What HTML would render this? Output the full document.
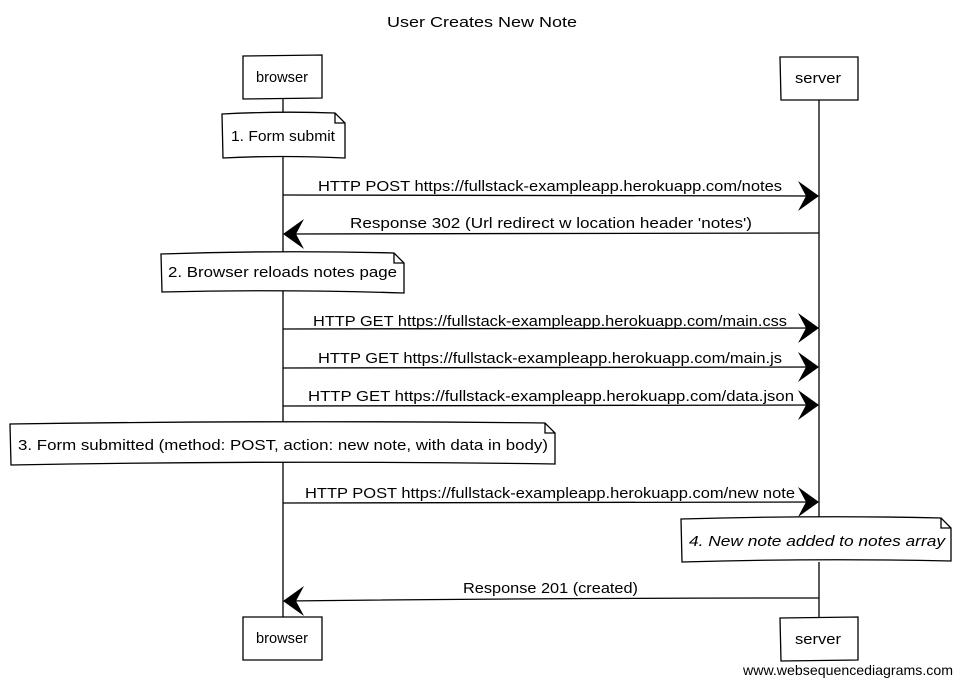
<!DOCTYPE html>
<html><head><meta charset="utf-8"><style>
html,body{margin:0;padding:0;background:#fff;}
svg{display:block;}
text{font-family:"Liberation Sans",sans-serif;fill:#000;}
.h{font-size:15px;}
</style></head><body>
<svg width="963" height="684" viewBox="0 0 963 684" xmlns="http://www.w3.org/2000/svg">
<g stroke="#000" stroke-width="1.3" fill="none">
<path d="M283 98 L283 617"/>
<path d="M819 100 L819 518 M819 562 L819 617"/>
<path d="M243 56 L322 55 L322 98 L243 99 Z" fill="#fff"/>
<path d="M780 57 L858 57 L858 100 L781 100 Z" fill="#fff"/>
<path d="M243 617 L322 617 L322 660 L243 660 Z" fill="#fff"/>
<path d="M780 618 L858 617 L858 660 L781 661 Z" fill="#fff"/>
<path d="M222 114 Q280 111 335 113 L345 123 L345 158 Q280 155 223 158 Z" fill="#fff"/>
<path d="M335 113 L335 123 L345 123"/>
<path d="M161 254 Q280 250 394 253 L404 263 L404 293 Q280 289 162 292 Z" fill="#fff"/>
<path d="M394 253 L394 263 L404 263"/>
<path d="M10 424 Q280 420 545 423 L555 433 L555 464 Q280 460 11 465 Z" fill="#fff"/>
<path d="M545 423 L545 433 L555 433"/>
<path d="M681 519 Q820 515 941 518 L951 528 L951 561 Q820 558 682 562 Z" fill="#fff"/>
<path d="M941 518 L941 528 L951 528"/>
<path d="M283 195 L815 196"/>
<path d="M819 233 L287 234"/>
<path d="M283 329 L815 328"/>
<path d="M283 368 L815 367"/>
<path d="M283 406 L815 405"/>
<path d="M283 503 L815 502"/>
<path d="M819 598 Q550 598 287 601"/>
</g>
<g fill="#000">
<path d="M819 196 L798 181 L806 196 L798 211 Z"/>
<path d="M283 234 L304 219 L296 234 L304 249 Z"/>
<path d="M819 328 L798 313 L806 328 L798 343 Z"/>
<path d="M819 367 L798 352 L806 367 L798 382 Z"/>
<path d="M819 405 L798 390 L806 405 L798 420 Z"/>
<path d="M819 502 L798 487 L806 502 L798 517 Z"/>
<path d="M283 601 L304 586 L296 601 L304 616 Z"/>
</g>
<text class="h" x="387" y="27" textLength="190" lengthAdjust="spacingAndGlyphs">User Creates New Note</text>
<text class="h" x="256" y="82" textLength="52" lengthAdjust="spacingAndGlyphs">browser</text>
<text class="h" x="795" y="83" textLength="46" lengthAdjust="spacingAndGlyphs">server</text>
<text class="h" x="256" y="643" textLength="52" lengthAdjust="spacingAndGlyphs">browser</text>
<text class="h" x="795" y="644" textLength="46" lengthAdjust="spacingAndGlyphs">server</text>
<text class="h" x="231" y="141" textLength="104" lengthAdjust="spacingAndGlyphs">1. Form submit</text>
<text class="h" x="318" y="191" textLength="464" lengthAdjust="spacingAndGlyphs">HTTP POST https://fullstack-exampleapp.herokuapp.com/notes</text>
<text class="h" x="350" y="228" textLength="402" lengthAdjust="spacingAndGlyphs">Response 302 (Url redirect w location header 'notes')</text>
<text class="h" x="168" y="277" textLength="229" lengthAdjust="spacingAndGlyphs">2. Browser reloads notes page</text>
<text class="h" x="313" y="326" textLength="474" lengthAdjust="spacingAndGlyphs">HTTP GET https://fullstack-exampleapp.herokuapp.com/main.css</text>
<text class="h" x="318" y="363" textLength="464" lengthAdjust="spacingAndGlyphs">HTTP GET https://fullstack-exampleapp.herokuapp.com/main.js</text>
<text class="h" x="308" y="401" textLength="486" lengthAdjust="spacingAndGlyphs">HTTP GET https://fullstack-exampleapp.herokuapp.com/data.json</text>
<text class="h" x="18" y="450" textLength="530" lengthAdjust="spacingAndGlyphs">3. Form submitted (method: POST, action: new note, with data in body)</text>
<text class="h" x="305" y="498" textLength="490" lengthAdjust="spacingAndGlyphs">HTTP POST https://fullstack-exampleapp.herokuapp.com/new note</text>
<text class="h" x="689" y="546" textLength="256" lengthAdjust="spacingAndGlyphs" font-style="italic">4. New note added to notes array</text>
<text class="h" x="463" y="593" textLength="175" lengthAdjust="spacingAndGlyphs">Response 201 (created)</text>
<text x="743" y="675" font-size="14" textLength="210" lengthAdjust="spacingAndGlyphs">www.websequencediagrams.com</text>
</svg>
</body></html>
